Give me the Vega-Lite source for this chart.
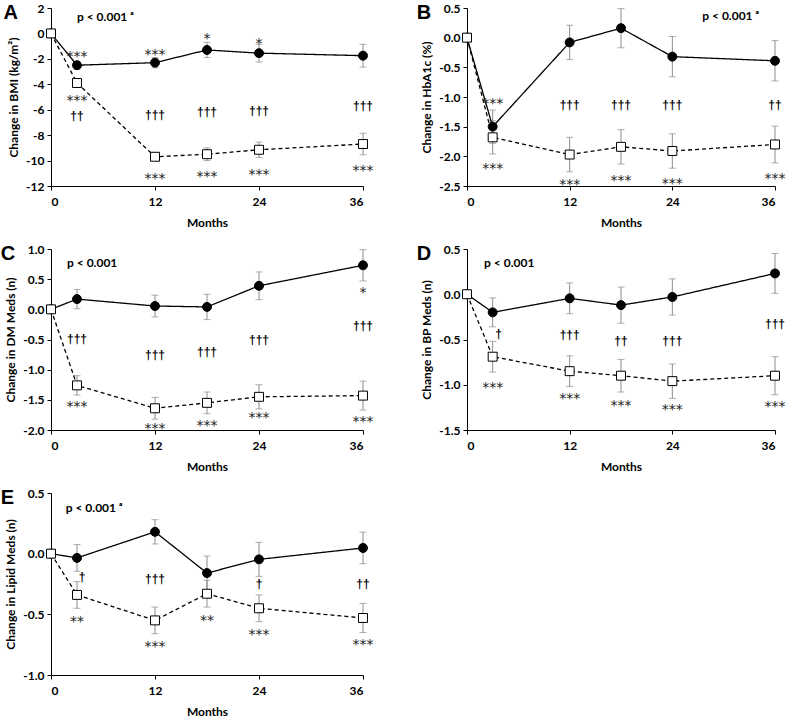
{
  "$schema": "https://vega.github.io/schema/vega-lite/v6.json",
  "padding": {"left": 0, "top": 2, "right": 4, "bottom": 0},
  "datasets": {
    "series": [
      {"p":"A","g":"Control","m":0,"v":0,"e":0},
      {"p":"A","g":"Control","m":3,"v":-2.5,"e":0.3},
      {"p":"A","g":"Control","m":12,"v":-2.3,"e":0.4},
      {"p":"A","g":"Control","m":18,"v":-1.3,"e":0.6},
      {"p":"A","g":"Control","m":24,"v":-1.55,"e":0.7},
      {"p":"A","g":"Control","m":36,"v":-1.75,"e":0.9},
      {"p":"A","g":"Surgery","m":0,"v":0,"e":0},
      {"p":"A","g":"Surgery","m":3,"v":-3.9,"e":0.2},
      {"p":"A","g":"Surgery","m":12,"v":-9.7,"e":0.3},
      {"p":"A","g":"Surgery","m":18,"v":-9.5,"e":0.5},
      {"p":"A","g":"Surgery","m":24,"v":-9.15,"e":0.6},
      {"p":"A","g":"Surgery","m":36,"v":-8.7,"e":0.85},
      {"p":"B","g":"Control","m":0,"v":0,"e":0},
      {"p":"B","g":"Control","m":3,"v":-1.5,"e":0.28},
      {"p":"B","g":"Control","m":12,"v":-0.08,"e":0.29},
      {"p":"B","g":"Control","m":18,"v":0.16,"e":0.33},
      {"p":"B","g":"Control","m":24,"v":-0.32,"e":0.34},
      {"p":"B","g":"Control","m":36,"v":-0.39,"e":0.34},
      {"p":"B","g":"Surgery","m":0,"v":0,"e":0},
      {"p":"B","g":"Surgery","m":3,"v":-1.68,"e":0.28},
      {"p":"B","g":"Surgery","m":12,"v":-1.97,"e":0.29},
      {"p":"B","g":"Surgery","m":18,"v":-1.84,"e":0.29},
      {"p":"B","g":"Surgery","m":24,"v":-1.91,"e":0.29},
      {"p":"B","g":"Surgery","m":36,"v":-1.8,"e":0.31},
      {"p":"C","g":"Control","m":0,"v":0,"e":0},
      {"p":"C","g":"Control","m":3,"v":0.17,"e":0.16},
      {"p":"C","g":"Control","m":12,"v":0.055,"e":0.18},
      {"p":"C","g":"Control","m":18,"v":0.04,"e":0.21},
      {"p":"C","g":"Control","m":24,"v":0.39,"e":0.23},
      {"p":"C","g":"Control","m":36,"v":0.73,"e":0.26},
      {"p":"C","g":"Surgery","m":0,"v":0,"e":0},
      {"p":"C","g":"Surgery","m":3,"v":-1.26,"e":0.16},
      {"p":"C","g":"Surgery","m":12,"v":-1.64,"e":0.18},
      {"p":"C","g":"Surgery","m":18,"v":-1.55,"e":0.18},
      {"p":"C","g":"Surgery","m":24,"v":-1.45,"e":0.2},
      {"p":"C","g":"Surgery","m":36,"v":-1.43,"e":0.24},
      {"p":"D","g":"Control","m":0,"v":0,"e":0},
      {"p":"D","g":"Control","m":3,"v":-0.2,"e":0.16},
      {"p":"D","g":"Control","m":12,"v":-0.045,"e":0.17},
      {"p":"D","g":"Control","m":18,"v":-0.12,"e":0.2},
      {"p":"D","g":"Control","m":24,"v":-0.03,"e":0.2},
      {"p":"D","g":"Control","m":36,"v":0.23,"e":0.22},
      {"p":"D","g":"Surgery","m":0,"v":0,"e":0},
      {"p":"D","g":"Surgery","m":3,"v":-0.69,"e":0.17},
      {"p":"D","g":"Surgery","m":12,"v":-0.85,"e":0.17},
      {"p":"D","g":"Surgery","m":18,"v":-0.9,"e":0.18},
      {"p":"D","g":"Surgery","m":24,"v":-0.96,"e":0.19},
      {"p":"D","g":"Surgery","m":36,"v":-0.9,"e":0.21},
      {"p":"E","g":"Control","m":0,"v":0,"e":0},
      {"p":"E","g":"Control","m":3,"v":-0.035,"e":0.11},
      {"p":"E","g":"Control","m":12,"v":0.18,"e":0.1},
      {"p":"E","g":"Control","m":18,"v":-0.16,"e":0.14},
      {"p":"E","g":"Control","m":24,"v":-0.047,"e":0.14},
      {"p":"E","g":"Control","m":36,"v":0.047,"e":0.13},
      {"p":"E","g":"Surgery","m":0,"v":0,"e":0},
      {"p":"E","g":"Surgery","m":3,"v":-0.34,"e":0.11},
      {"p":"E","g":"Surgery","m":12,"v":-0.55,"e":0.11},
      {"p":"E","g":"Surgery","m":18,"v":-0.33,"e":0.11},
      {"p":"E","g":"Surgery","m":24,"v":-0.45,"e":0.11},
      {"p":"E","g":"Surgery","m":36,"v":-0.53,"e":0.12}
    ],
    "notes": [
      {"p":"A","m":3,"v":-1.56,"t":"***"},
      {"p":"A","m":3,"v":-5.0,"t":"***"},
      {"p":"A","m":3,"v":-6.5,"t":"††"},
      {"p":"A","m":12,"v":-1.4,"t":"***"},
      {"p":"A","m":12,"v":-6.4,"t":"†††"},
      {"p":"A","m":12,"v":-11.1,"t":"***"},
      {"p":"A","m":18,"v":-0.15,"t":"*"},
      {"p":"A","m":18,"v":-6.2,"t":"†††"},
      {"p":"A","m":18,"v":-11.0,"t":"***"},
      {"p":"A","m":24,"v":-0.5,"t":"*"},
      {"p":"A","m":24,"v":-6.1,"t":"†††"},
      {"p":"A","m":24,"v":-10.8,"t":"***"},
      {"p":"A","m":36,"v":-5.7,"t":"†††"},
      {"p":"A","m":36,"v":-10.5,"t":"***"},
      {"p":"B","m":3,"v":-1.05,"t":"***"},
      {"p":"B","m":3,"v":-2.15,"t":"***"},
      {"p":"B","m":12,"v":-1.13,"t":"†††"},
      {"p":"B","m":12,"v":-2.41,"t":"***"},
      {"p":"B","m":18,"v":-1.13,"t":"†††"},
      {"p":"B","m":18,"v":-2.34,"t":"***"},
      {"p":"B","m":24,"v":-1.13,"t":"†††"},
      {"p":"B","m":24,"v":-2.4,"t":"***"},
      {"p":"B","m":36,"v":-1.13,"t":"††"},
      {"p":"B","m":36,"v":-2.31,"t":"***"},
      {"p":"C","m":3,"v":-0.49,"t":"†††"},
      {"p":"C","m":3,"v":-1.56,"t":"***"},
      {"p":"C","m":12,"v":-0.75,"t":"†††"},
      {"p":"C","m":12,"v":-1.91,"t":"***"},
      {"p":"C","m":18,"v":-0.71,"t":"†††"},
      {"p":"C","m":18,"v":-1.87,"t":"***"},
      {"p":"C","m":24,"v":-0.5,"t":"†††"},
      {"p":"C","m":24,"v":-1.74,"t":"***"},
      {"p":"C","m":36,"v":0.33,"t":"*"},
      {"p":"C","m":36,"v":-0.27,"t":"†††"},
      {"p":"C","m":36,"v":-1.8,"t":"***"},
      {"p":"D","m":3.7,"v":-0.44,"t":"†"},
      {"p":"D","m":3,"v":-0.99,"t":"***"},
      {"p":"D","m":12,"v":-0.45,"t":"†††"},
      {"p":"D","m":12,"v":-1.11,"t":"***"},
      {"p":"D","m":18,"v":-0.52,"t":"††"},
      {"p":"D","m":18,"v":-1.19,"t":"***"},
      {"p":"D","m":24,"v":-0.52,"t":"†††"},
      {"p":"D","m":24,"v":-1.24,"t":"***"},
      {"p":"D","m":36,"v":-0.33,"t":"†††"},
      {"p":"D","m":36,"v":-1.2,"t":"***"},
      {"p":"E","m":3.6,"v":-0.19,"t":"†"},
      {"p":"E","m":3,"v":-0.53,"t":"**"},
      {"p":"E","m":12,"v":-0.21,"t":"†††"},
      {"p":"E","m":12,"v":-0.74,"t":"***"},
      {"p":"E","m":18,"v":-0.52,"t":"**"},
      {"p":"E","m":24,"v":-0.25,"t":"†"},
      {"p":"E","m":24,"v":-0.64,"t":"***"},
      {"p":"E","m":36,"v":-0.25,"t":"††"},
      {"p":"E","m":36,"v":-0.72,"t":"***"}
    ],
    "ptext": [
      {"p":"A","m":3.0,"v":1.3,"t":"p < 0.001 ᵃ"},
      {"p":"B","m":27.5,"v":0.37,"t":"p < 0.001 ᵃ"},
      {"p":"C","m":1.85,"v":0.76,"t":"p < 0.001"},
      {"p":"D","m":2.0,"v":0.35,"t":"p < 0.001"},
      {"p":"E","m":1.7,"v":0.38,"t":"p < 0.001 ᵃ"}
    ]
  },
  "columns": 2,
  "spacing": {"row": 15, "column": 42},
  "concat": [
    {
      "width": 312, "height": 178,
      "title": {"text": "A"},
      "encoding": {
        "x": {"field": "m", "type": "quantitative", "scale": {"domain": [0, 36], "nice": false}, "axis": {"values": [0, 12, 24, 36]}, "title": "Months"},
        "y": {"field": "v", "type": "quantitative", "scale": {"domain": [-12, 2], "nice": false}, "axis": {"values": [-12, -10, -8, -6, -4, -2, 0, 2], "format": "d"}, "title": "Change in BMI (kg/m²)"}
      },
      "layer": [
        {"data": {"name": "series"}, "transform": [{"filter": "datum.p == 'A' && datum.e > 0"}],
         "mark": {"type": "errorbar", "color": "#8c8c8c", "thickness": 1, "ticks": {"size": 7, "color": "#8c8c8c"}},
         "encoding": {"yError": {"field": "e"}}},
        {"data": {"name": "series"}, "transform": [{"filter": "datum.p == 'A'"}],
         "mark": {"type": "line", "color": "black", "strokeWidth": 1.3},
         "encoding": {"strokeDash": {"field": "g", "type": "nominal", "scale": {"domain": ["Control", "Surgery"], "range": [[1, 0], [4, 3]]}, "legend": null}}},
        {"data": {"name": "series"}, "transform": [{"filter": "datum.p == 'A'"}],
         "mark": {"type": "point", "filled": true, "stroke": "black", "strokeWidth": 1, "opacity": 1},
         "encoding": {"shape": {"field": "g", "type": "nominal", "scale": {"domain": ["Control", "Surgery"], "range": ["circle", "square"]}, "legend": null},
                      "fill": {"field": "g", "type": "nominal", "scale": {"domain": ["Control", "Surgery"], "range": ["black", "white"]}, "legend": null},
                      "size": {"field": "g", "type": "nominal", "scale": {"domain": ["Control", "Surgery"], "range": [80, 80]}, "legend": null}}},
        {"data": {"name": "notes"}, "transform": [{"filter": "datum.p == 'A' && indexof(datum.t, '*') >= 0"}],
         "mark": {"type": "text", "font": "DejaVu Sans", "fontSize": 14, "color": "#222222", "dy": 4},
         "encoding": {"text": {"field": "t"}}},
        {"data": {"name": "notes"}, "transform": [{"filter": "datum.p == 'A' && indexof(datum.t, '*') < 0"}],
         "mark": {"type": "text", "font": "Liberation Sans", "fontWeight": "bold", "fontSize": 12, "color": "black"},
         "encoding": {"text": {"field": "t"}}},
        {"data": {"name": "ptext"}, "transform": [{"filter": "datum.p == 'A'"}],
         "mark": {"type": "text", "font": "Lato", "fontWeight": "bold", "fontSize": 12, "align": "left", "color": "black"},
         "encoding": {"text": {"field": "t"}}}
      ]
    },
    {
      "width": 308, "height": 178,
      "title": {"text": "B"},
      "encoding": {
        "x": {"field": "m", "type": "quantitative", "scale": {"domain": [0, 36], "nice": false}, "axis": {"values": [0, 12, 24, 36]}, "title": "Months"},
        "y": {"field": "v", "type": "quantitative", "scale": {"domain": [-2.5, 0.5], "nice": false}, "axis": {"values": [-2.5, -2, -1.5, -1, -0.5, 0, 0.5], "format": ".1f"}, "title": "Change in HbA1c (%)"}
      },
      "layer": [
        {"data": {"name": "series"}, "transform": [{"filter": "datum.p == 'B' && datum.e > 0"}],
         "mark": {"type": "errorbar", "color": "#8c8c8c", "thickness": 1, "ticks": {"size": 7, "color": "#8c8c8c"}},
         "encoding": {"yError": {"field": "e"}}},
        {"data": {"name": "series"}, "transform": [{"filter": "datum.p == 'B'"}],
         "mark": {"type": "line", "color": "black", "strokeWidth": 1.3},
         "encoding": {"strokeDash": {"field": "g", "type": "nominal", "scale": {"domain": ["Control", "Surgery"], "range": [[1, 0], [4, 3]]}, "legend": null}}},
        {"data": {"name": "series"}, "transform": [{"filter": "datum.p == 'B'"}],
         "mark": {"type": "point", "filled": true, "stroke": "black", "strokeWidth": 1, "opacity": 1},
         "encoding": {"shape": {"field": "g", "type": "nominal", "scale": {"domain": ["Control", "Surgery"], "range": ["circle", "square"]}, "legend": null},
                      "fill": {"field": "g", "type": "nominal", "scale": {"domain": ["Control", "Surgery"], "range": ["black", "white"]}, "legend": null},
                      "size": {"field": "g", "type": "nominal", "scale": {"domain": ["Control", "Surgery"], "range": [80, 80]}, "legend": null}}},
        {"data": {"name": "notes"}, "transform": [{"filter": "datum.p == 'B' && indexof(datum.t, '*') >= 0"}],
         "mark": {"type": "text", "font": "DejaVu Sans", "fontSize": 14, "color": "#222222", "dy": 4},
         "encoding": {"text": {"field": "t"}}},
        {"data": {"name": "notes"}, "transform": [{"filter": "datum.p == 'B' && indexof(datum.t, '*') < 0"}],
         "mark": {"type": "text", "font": "Liberation Sans", "fontWeight": "bold", "fontSize": 12, "color": "black"},
         "encoding": {"text": {"field": "t"}}},
        {"data": {"name": "ptext"}, "transform": [{"filter": "datum.p == 'B'"}],
         "mark": {"type": "text", "font": "Lato", "fontWeight": "bold", "fontSize": 12, "align": "left", "color": "black"},
         "encoding": {"text": {"field": "t"}}}
      ]
    },
    {
      "width": 312, "height": 181,
      "title": {"text": "C"},
      "encoding": {
        "x": {"field": "m", "type": "quantitative", "scale": {"domain": [0, 36], "nice": false}, "axis": {"values": [0, 12, 24, 36]}, "title": "Months"},
        "y": {"field": "v", "type": "quantitative", "scale": {"domain": [-2, 1], "nice": false}, "axis": {"values": [-2, -1.5, -1, -0.5, 0, 0.5, 1], "format": ".1f"}, "title": "Change in DM Meds (n)"}
      },
      "layer": [
        {"data": {"name": "series"}, "transform": [{"filter": "datum.p == 'C' && datum.e > 0"}],
         "mark": {"type": "errorbar", "color": "#8c8c8c", "thickness": 1, "ticks": {"size": 7, "color": "#8c8c8c"}},
         "encoding": {"yError": {"field": "e"}}},
        {"data": {"name": "series"}, "transform": [{"filter": "datum.p == 'C'"}],
         "mark": {"type": "line", "color": "black", "strokeWidth": 1.3},
         "encoding": {"strokeDash": {"field": "g", "type": "nominal", "scale": {"domain": ["Control", "Surgery"], "range": [[1, 0], [4, 3]]}, "legend": null}}},
        {"data": {"name": "series"}, "transform": [{"filter": "datum.p == 'C'"}],
         "mark": {"type": "point", "filled": true, "stroke": "black", "strokeWidth": 1, "opacity": 1},
         "encoding": {"shape": {"field": "g", "type": "nominal", "scale": {"domain": ["Control", "Surgery"], "range": ["circle", "square"]}, "legend": null},
                      "fill": {"field": "g", "type": "nominal", "scale": {"domain": ["Control", "Surgery"], "range": ["black", "white"]}, "legend": null},
                      "size": {"field": "g", "type": "nominal", "scale": {"domain": ["Control", "Surgery"], "range": [80, 80]}, "legend": null}}},
        {"data": {"name": "notes"}, "transform": [{"filter": "datum.p == 'C' && indexof(datum.t, '*') >= 0"}],
         "mark": {"type": "text", "font": "DejaVu Sans", "fontSize": 14, "color": "#222222", "dy": 4},
         "encoding": {"text": {"field": "t"}}},
        {"data": {"name": "notes"}, "transform": [{"filter": "datum.p == 'C' && indexof(datum.t, '*') < 0"}],
         "mark": {"type": "text", "font": "Liberation Sans", "fontWeight": "bold", "fontSize": 12, "color": "black"},
         "encoding": {"text": {"field": "t"}}},
        {"data": {"name": "ptext"}, "transform": [{"filter": "datum.p == 'C'"}],
         "mark": {"type": "text", "font": "Lato", "fontWeight": "bold", "fontSize": 12, "align": "left", "color": "black"},
         "encoding": {"text": {"field": "t"}}}
      ]
    },
    {
      "width": 308, "height": 181,
      "title": {"text": "D"},
      "encoding": {
        "x": {"field": "m", "type": "quantitative", "scale": {"domain": [0, 36], "nice": false}, "axis": {"values": [0, 12, 24, 36]}, "title": "Months"},
        "y": {"field": "v", "type": "quantitative", "scale": {"domain": [-1.5, 0.5], "nice": false}, "axis": {"values": [-1.5, -1, -0.5, 0, 0.5], "format": ".1f"}, "title": "Change in BP Meds (n)"}
      },
      "layer": [
        {"data": {"name": "series"}, "transform": [{"filter": "datum.p == 'D' && datum.e > 0"}],
         "mark": {"type": "errorbar", "color": "#8c8c8c", "thickness": 1, "ticks": {"size": 7, "color": "#8c8c8c"}},
         "encoding": {"yError": {"field": "e"}}},
        {"data": {"name": "series"}, "transform": [{"filter": "datum.p == 'D'"}],
         "mark": {"type": "line", "color": "black", "strokeWidth": 1.3},
         "encoding": {"strokeDash": {"field": "g", "type": "nominal", "scale": {"domain": ["Control", "Surgery"], "range": [[1, 0], [4, 3]]}, "legend": null}}},
        {"data": {"name": "series"}, "transform": [{"filter": "datum.p == 'D'"}],
         "mark": {"type": "point", "filled": true, "stroke": "black", "strokeWidth": 1, "opacity": 1},
         "encoding": {"shape": {"field": "g", "type": "nominal", "scale": {"domain": ["Control", "Surgery"], "range": ["circle", "square"]}, "legend": null},
                      "fill": {"field": "g", "type": "nominal", "scale": {"domain": ["Control", "Surgery"], "range": ["black", "white"]}, "legend": null},
                      "size": {"field": "g", "type": "nominal", "scale": {"domain": ["Control", "Surgery"], "range": [80, 80]}, "legend": null}}},
        {"data": {"name": "notes"}, "transform": [{"filter": "datum.p == 'D' && indexof(datum.t, '*') >= 0"}],
         "mark": {"type": "text", "font": "DejaVu Sans", "fontSize": 14, "color": "#222222", "dy": 4},
         "encoding": {"text": {"field": "t"}}},
        {"data": {"name": "notes"}, "transform": [{"filter": "datum.p == 'D' && indexof(datum.t, '*') < 0"}],
         "mark": {"type": "text", "font": "Liberation Sans", "fontWeight": "bold", "fontSize": 12, "color": "black"},
         "encoding": {"text": {"field": "t"}}},
        {"data": {"name": "ptext"}, "transform": [{"filter": "datum.p == 'D'"}],
         "mark": {"type": "text", "font": "Lato", "fontWeight": "bold", "fontSize": 12, "align": "left", "color": "black"},
         "encoding": {"text": {"field": "t"}}}
      ]
    },
    {
      "width": 312, "height": 182,
      "title": {"text": "E"},
      "encoding": {
        "x": {"field": "m", "type": "quantitative", "scale": {"domain": [0, 36], "nice": false}, "axis": {"values": [0, 12, 24, 36]}, "title": "Months"},
        "y": {"field": "v", "type": "quantitative", "scale": {"domain": [-1, 0.5], "nice": false}, "axis": {"values": [-1, -0.5, 0, 0.5], "format": ".1f"}, "title": "Change in Lipid Meds (n)"}
      },
      "layer": [
        {"data": {"name": "series"}, "transform": [{"filter": "datum.p == 'E' && datum.e > 0"}],
         "mark": {"type": "errorbar", "color": "#8c8c8c", "thickness": 1, "ticks": {"size": 7, "color": "#8c8c8c"}},
         "encoding": {"yError": {"field": "e"}}},
        {"data": {"name": "series"}, "transform": [{"filter": "datum.p == 'E'"}],
         "mark": {"type": "line", "color": "black", "strokeWidth": 1.3},
         "encoding": {"strokeDash": {"field": "g", "type": "nominal", "scale": {"domain": ["Control", "Surgery"], "range": [[1, 0], [4, 3]]}, "legend": null}}},
        {"data": {"name": "series"}, "transform": [{"filter": "datum.p == 'E'"}],
         "mark": {"type": "point", "filled": true, "stroke": "black", "strokeWidth": 1, "opacity": 1},
         "encoding": {"shape": {"field": "g", "type": "nominal", "scale": {"domain": ["Control", "Surgery"], "range": ["circle", "square"]}, "legend": null},
                      "fill": {"field": "g", "type": "nominal", "scale": {"domain": ["Control", "Surgery"], "range": ["black", "white"]}, "legend": null},
                      "size": {"field": "g", "type": "nominal", "scale": {"domain": ["Control", "Surgery"], "range": [80, 80]}, "legend": null}}},
        {"data": {"name": "notes"}, "transform": [{"filter": "datum.p == 'E' && indexof(datum.t, '*') >= 0"}],
         "mark": {"type": "text", "font": "DejaVu Sans", "fontSize": 14, "color": "#222222", "dy": 4},
         "encoding": {"text": {"field": "t"}}},
        {"data": {"name": "notes"}, "transform": [{"filter": "datum.p == 'E' && indexof(datum.t, '*') < 0"}],
         "mark": {"type": "text", "font": "Liberation Sans", "fontWeight": "bold", "fontSize": 12, "color": "black"},
         "encoding": {"text": {"field": "t"}}},
        {"data": {"name": "ptext"}, "transform": [{"filter": "datum.p == 'E'"}],
         "mark": {"type": "text", "font": "Lato", "fontWeight": "bold", "fontSize": 12, "align": "left", "color": "black"},
         "encoding": {"text": {"field": "t"}}}
      ]
    }
  ],
  "config": {
    "view": {"stroke": null},
    "font": "Lato",
    "locale": {"number": {"decimal": ".", "thousands": ",", "grouping": [3], "currency": ["$", ""], "minus": "-"}},
    "axis": {"grid": false, "domainColor": "black", "tickColor": "black", "labelColor": "black", "titleColor": "black",
             "labelFont": "Lato", "titleFont": "Lato", "labelFontWeight": "bold", "titleFontWeight": "bold",
             "labelFontSize": 12, "titleFontSize": 12, "tickSize": 4, "domainWidth": 1, "tickWidth": 1, "labelOverlap": false},
    "axisX": {"titlePadding": 10, "labelPadding": 6},
    "axisY": {"titlePadding": 5, "labelPadding": 3},
    "title": {"anchor": "start", "frame": "bounds", "font": "Liberation Sans", "fontSize": 20, "fontWeight": "bold", "color": "black", "offset": -21, "dx": -4}
  }
}
